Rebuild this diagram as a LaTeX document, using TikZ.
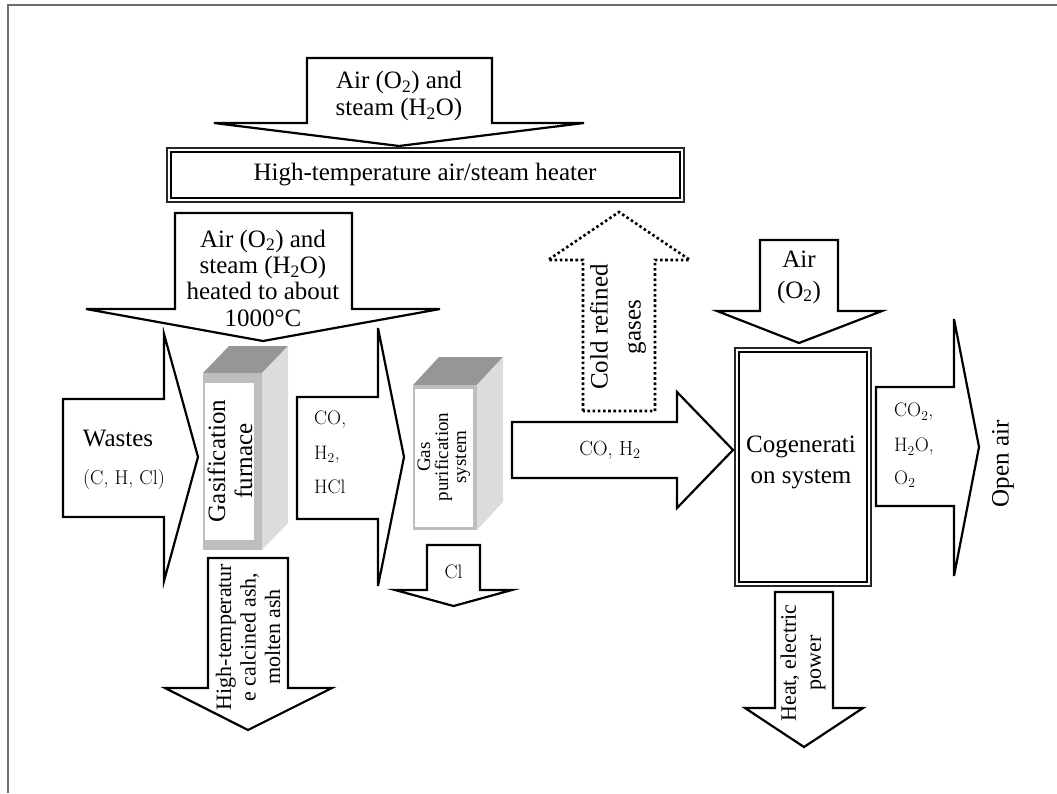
\documentclass[tikz,border=0pt]{standalone}
\usepackage{fontspec}
\newfontfamily\tnr{Liberation Serif}
\newcommand\myfs[2]{\fontsize{#1}{#2}\selectfont}
\tikzset{
  blk/.style={draw=black, line width=2.2pt, fill=white, line join=miter},
  dotblk/.style={draw=black, line width=2.6pt, dash pattern=on 2.6pt off 2.6pt, fill=white},
  lbl/.style={font=\tnr\myfs{25}{27}, align=center, inner sep=0pt},
  lblsm/.style={font=\tnr\myfs{22}{24.5}, align=center, inner sep=0pt},
  sml/.style={font=\myfs{19.5}{22}, inner sep=0pt},
  frontface/.style={fill=boxgray, draw=none},
  topface/.style={fill=topgray, draw=none},
  sideface/.style={fill=sidegray, draw=none},
  dblout/.style={draw=black!85, line width=1.2pt},
  dblin/.style={draw=black, line width=1.6pt},
}
\definecolor{boxgray}{HTML}{BEBEBE}
\definecolor{topgray}{HTML}{969696}
\definecolor{sidegray}{HTML}{DCDCDE}
\definecolor{framegray}{HTML}{6E6E6E}
\begin{document}
\begin{tikzpicture}[x=1pt,y=-1pt]
\useasboundingbox (0,0) rectangle (1057,793);
% frame
\draw[framegray, line width=2pt] (8,793) -- (8,5) -- (1057,5);

% top arrow
\draw[blk] (307,58) -- (492,58) -- (492,123) -- (584,123) -- (399,146) -- (214,123) -- (307,123) -- cycle;
\node[lbl] (topair) at (399,96) {Air (O\textsubscript{2}) and\\steam (H\textsubscript{2}O)};

% heater
\draw[dblout] (167,148) rectangle (684,202);
\draw[dblin] (171,152) rectangle (680,198);
\node[lbl] (heater) at (425,175) {High-temperature air/steam heater};

% heated air arrow
\draw[blk] (175,213) -- (352,213) -- (352,309) -- (440,309) -- (263,341) -- (86,309) -- (175,309) -- cycle;
\node[lbl, font=\tnr\myfs{25}{26.3}] (hotair) at (263,278) {Air (O\textsubscript{2}) and\\steam (H\textsubscript{2}O)\\heated to about\\1000°C};

% wastes arrow
\draw[blk] (63,399) -- (164,399) -- (164,334) -- (198,457) -- (164,581) -- (164,517) -- (63,517) -- cycle;
\node[lbl] (wastes) at (118,438) {Wastes};
\node[sml, font=\myfs{20}{22}] (chcl) at (124,480) {(C,\ H,\ Cl)};

% gasification furnace box
\fill[topface] (203,373) -- (262,373) -- (288,346) -- (229,346) -- cycle;
\fill[sideface] (262,373) -- (288,346) -- (288,523) -- (262,550) -- cycle;
\fill[frontface] (203,373) rectangle (262,550);
\fill[white] (205,383) rectangle (254,540);
\node[lbl, rotate=90] (furnace) at (230,461) {Gasification\\furnace};

% CO H2 HCl arrow
\draw[blk] (297,397) -- (378,397) -- (378,328) -- (404,457) -- (378,586) -- (378,519) -- (297,519) -- cycle;
\node[sml, anchor=west] (co1) at (314,420) {CO,};
\node[sml, anchor=west] (h21) at (314,455) {H\textsubscript{2},};
\node[sml, anchor=west] (hcl) at (314,487) {HCl};

% gas purification box
\fill[topface] (413,385) -- (477,385) -- (503,357) -- (439,357) -- cycle;
\fill[sideface] (477,385) -- (503,357) -- (503,502) -- (477,530) -- cycle;
\fill[frontface] (413,385) rectangle (477,530);
\fill[white] (415,389) rectangle (473,527);
\node[lbl, rotate=90, font=\tnr\myfs{19}{18}] (gps) at (444,457) {Gas\\purification\\system};

% Cl arrow
\draw[blk] (427,545) -- (480,545) -- (480,590) -- (512,590) -- (453.5,606) -- (395,590) -- (427,590) -- cycle;
\node[sml] (cl) at (453.5,572) {Cl};

% ash arrow
\draw[blk] (208,558) -- (288,558) -- (288,688) -- (332,688) -- (248,730) -- (165,688) -- (208,688) -- cycle;
\node[lblsm, rotate=90] (ash) at (248,637) {High-temperatur\\e calcined ash,\\molten ash};

% cold refined gases (dotted, up)
\draw[dotblk] (583,411) -- (583,260) -- (548,260) -- (619,212) -- (690,260) -- (655,260) -- (655,411) -- cycle;
\node[lbl, rotate=90, font=\tnr\myfs{25}{33}] (cold) at (618,327) {Cold refined\\gases};

% CO, H2 arrow to cogeneration
\draw[blk] (512,422) -- (677,422) -- (677,392) -- (733,450) -- (677,508) -- (677,478) -- (512,478) -- cycle;
\node[sml, font=\myfs{20.5}{22}] (coh2) at (610,450) {CO,\ H\textsubscript{2}};

% air arrow to cogeneration
\draw[blk] (760,240) -- (838,240) -- (838,311) -- (882,311) -- (799,343) -- (717,311) -- (760,311) -- cycle;
\node[lbl, font=\tnr\myfs{25}{31}] (air2) at (799,277) {Air\\(O\textsubscript{2})};

% cogeneration box
\draw[dblout] (735,348) rectangle (871,586);
\draw[dblin] (739,352) rectangle (867,582);
\node[lbl, font=\tnr\myfs{25}{31}] (cogen) at (801,462) {Cogenerati\\on system};

% output arrow
\draw[blk] (876,387) -- (954,387) -- (954,319) -- (979,447) -- (954,576) -- (954,506) -- (876,506) -- cycle;
\node[sml, anchor=west] (co2) at (894,412) {CO\textsubscript{2},};
\node[sml, anchor=west] (h2o) at (894,447) {H\textsubscript{2}O,};
\node[sml, anchor=west] (o2) at (894,479) {O\textsubscript{2}};
\node[lbl, rotate=90] (openair) at (1003,464) {Open air};

% heat arrow
\draw[blk] (775,592) -- (833,592) -- (833,708) -- (863,708) -- (804,747) -- (745,708) -- (775,708) -- cycle;
\node[lblsm, rotate=90, font=\tnr\myfs{22}{25}] (heat) at (803,663) {Heat, electric\\power};
\end{tikzpicture}
\end{document}
